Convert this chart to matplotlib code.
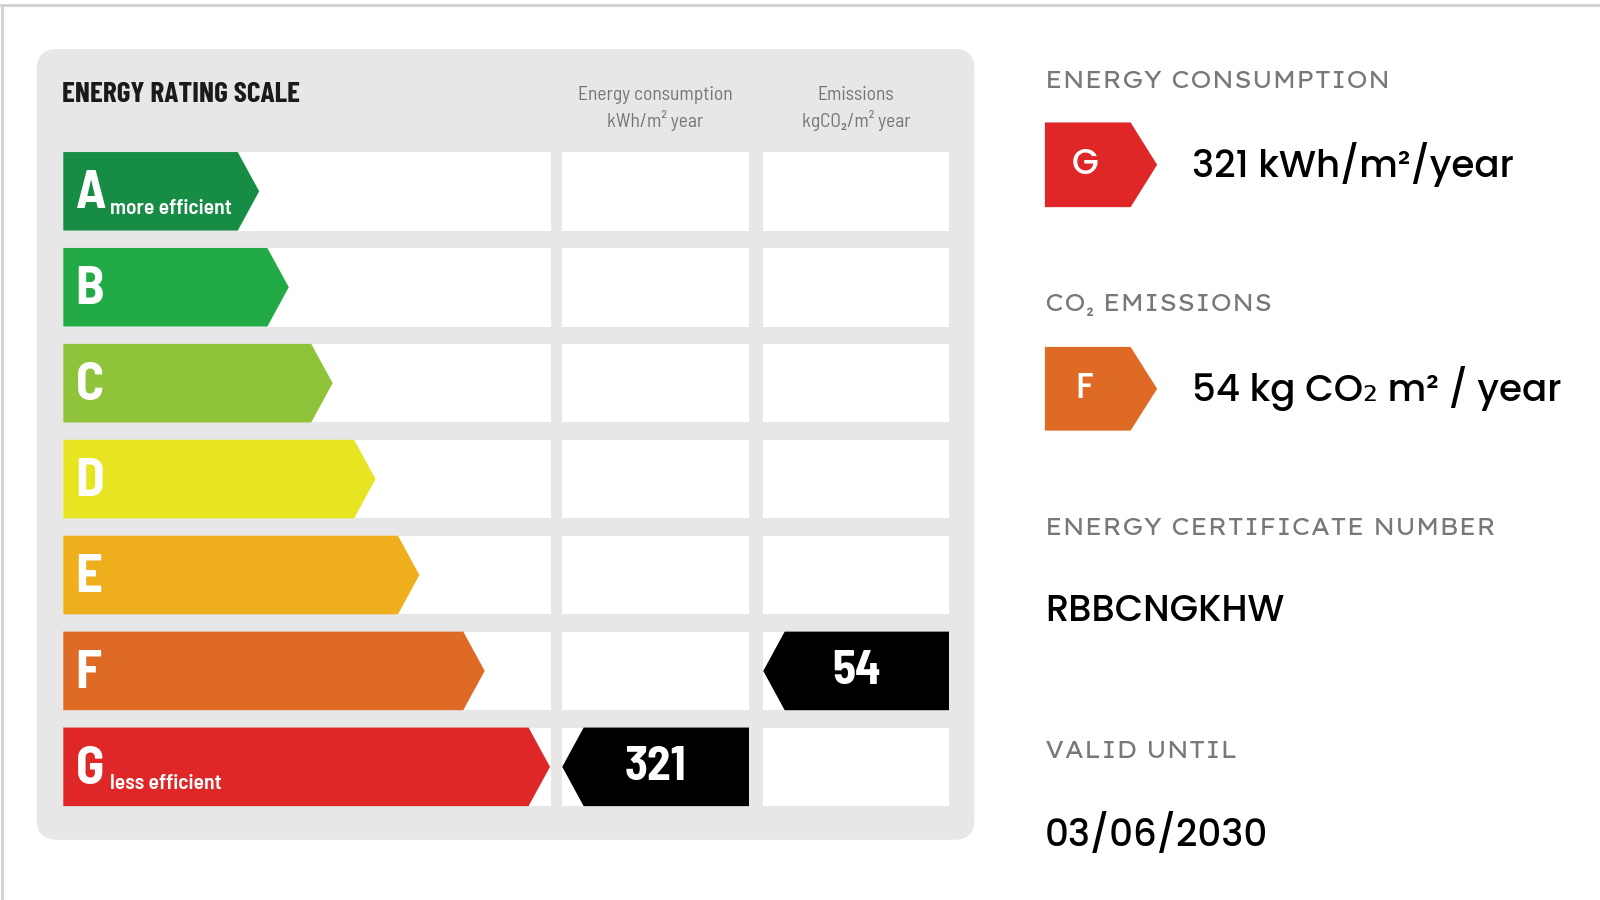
import matplotlib
matplotlib.use("Agg")
import matplotlib.pyplot as plt
from matplotlib.patches import Polygon, FancyBboxPatch, Rectangle

# ---------------- data ----------------
grades = ["A", "B", "C", "D", "E", "F", "G"]
grade_colors = ["#178c45", "#22aa46", "#8fc33a", "#e7e521", "#efae1c", "#de6a25", "#e02727"]
grade_tip_x = [254, 283, 326, 368, 411, 475, 539]   # arrow tip position per grade
grade_notes = {"A": "more efficient", "G": "less efficient"}

energy_value = 321
energy_grade = "G"
energy_unit = "kWh/m²/year"
emission_value = 54
emission_grade = "F"
emission_unit = "kg CO₂ m² / year"
certificate_number = "RBBCNGKHW"
valid_until = "03/06/2030"

col_headers = [("Energy consumption", "kWh/m² year"), ("Emissions", "kgCO₂/m² year")]

# ---------------- styling ----------------
COND = ["Barlow Semi Condensed", "Roboto Condensed", "DejaVu Sans"]
NARROW = ["Barlow Condensed", "Roboto Condensed", "DejaVu Sans"]
POP = ["Poppins", "DejaVu Sans"]
SPACED = ["Lexend Exa", "Poppins", "DejaVu Sans"]

fig = plt.figure(figsize=(16, 9), dpi=100)
ax = fig.add_axes([0, 0, 1, 1])
W, H = 1568, 882
ax.set_xlim(0, W)
ax.set_ylim(H, 0)
ax.axis("off")

ax.plot([0, W], [5, 5], color="#d0d0d0", lw=2, zorder=1)
ax.plot([1.5, 1.5], [5, H], color="#d0d0d0", lw=2, zorder=1)

panel = FancyBboxPatch((36, 48), 919, 775, boxstyle="round,pad=0,rounding_size=20",
                       fc="#e7e7e7", ec="none", zorder=1)
ax.add_patch(panel)

ax.text(61, 93, "ENERGY RATING SCALE", family=NARROW, weight="bold", fontsize=21.2,
        color="#1a1a1a", va="center", ha="left", zorder=3)

col_x = [(551, 734), (748, 930)]
for (x0, x1), (h1, h2) in zip(col_x, col_headers):
    cx = (x0 + x1) / 2
    ax.text(cx, 93, h1, family=COND, weight="normal", fontsize=14, color="#767676", ha="center", va="center")
    ax.text(cx, 118, h2, family=COND, weight="normal", fontsize=14, color="#767676", ha="center", va="center")

row_top0 = 149
row_pitch = 94
row_h = 77
depth = 21

for i, (g, c, tip) in enumerate(zip(grades, grade_colors, grade_tip_x)):
    top = row_top0 + i * row_pitch
    bot = top + row_h
    mid = (top + bot) / 2
    ax.add_patch(Rectangle((62, top), 540 - 62, row_h, fc="white", ec="none", zorder=2))
    for x0, x1 in col_x:
        ax.add_patch(Rectangle((x0, top), x1 - x0, row_h, fc="white", ec="none", zorder=2))
    ax.add_patch(Polygon([(62, top), (tip - depth, top), (tip, mid), (tip - depth, bot), (62, bot)],
                         closed=True, fc=c, ec="none", zorder=3))
    ax.text(74, mid + 3, g, family=COND, weight="bold", fontsize=38, color="white",
            ha="left", va="center", zorder=4)
    if g in grade_notes:
        ax.text(108, mid + 22, grade_notes[g], family=COND, weight="semibold", fontsize=15.5,
                color="white", ha="left", va="baseline", zorder=4)
    for (x0, x1), val, vg in [(col_x[0], energy_value, energy_grade),
                              (col_x[1], emission_value, emission_grade)]:
        if g == vg:
            ax.add_patch(Polygon([(x0, mid), (x0 + depth, top), (x1, top), (x1, bot), (x0 + depth, bot)],
                                 closed=True, fc="black", ec="none", zorder=3))
            ax.text((x0 + x1) / 2, mid + 1, str(val), family=COND, weight="bold", fontsize=34,
                    color="white", ha="center", va="center", zorder=4)

RX = 1024
label_kw = dict(family=SPACED, weight="normal", fontsize=17.3, color="#787878", ha="left", va="center")


def badge(y0, y1, letter, color):
    mid = (y0 + y1) / 2
    ax.add_patch(Polygon([(RX, y0), (1108, y0), (1134, mid), (1108, y1), (RX, y1)],
                         closed=True, fc=color, ec="none", zorder=3))
    ax.text(1063, mid + 1, letter, family=POP, weight="medium", fontsize=25, color="white",
            ha="center", va="center", zorder=4)
    return mid


ax.text(RX, 80, "ENERGY CONSUMPTION", **label_kw)
m = badge(120, 203, energy_grade, grade_colors[grades.index(energy_grade)])
ax.text(1168, m, f"{energy_value} {energy_unit}", family=POP, weight="medium", fontsize=26.8,
        color="black", ha="left", va="center")

ax.text(RX, 298, "CO₂ EMISSIONS", **label_kw)
m = badge(340, 422, emission_grade, grade_colors[grades.index(emission_grade)])
ax.text(1168, m, f"{emission_value} {emission_unit}", family=POP, weight="medium", fontsize=26.8,
        color="black", ha="left", va="center")

ax.text(RX, 518, "ENERGY CERTIFICATE NUMBER", **label_kw)
ax.text(RX, 600, certificate_number, family=POP, weight="medium", fontsize=26.5, color="black",
        ha="left", va="center")

ax.text(RX, 736, "VALID UNTIL", **label_kw)
ax.text(RX, 818, valid_until, family=POP, weight="medium", fontsize=26.8, color="black",
        ha="left", va="center")

fig.savefig("out.png", dpi=100, facecolor="white")
